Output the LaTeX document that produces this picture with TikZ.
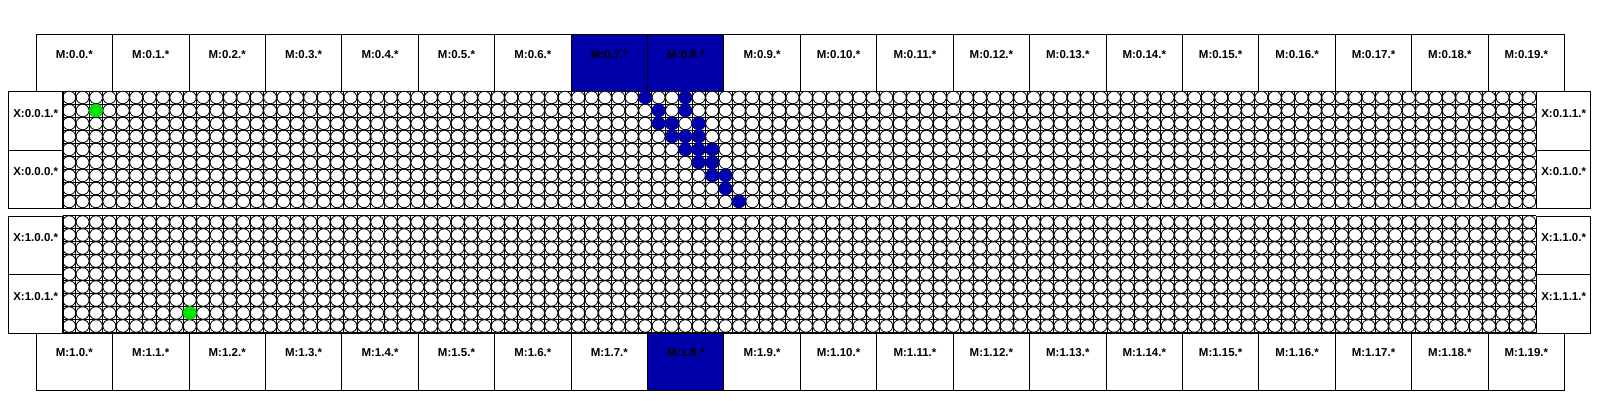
\documentclass[tikz,border=0pt]{standalone}
\usepackage{fontspec}
\setmainfont{Liberation Sans}
\definecolor{hiblue}{RGB}{0,0,170}
\definecolor{higreen}{RGB}{0,230,0}
\tikzset{
  box/.style={draw=black, line width=0.9pt, inner sep=0pt, font=\fontsize{11.5}{13}\selectfont\bfseries},
  mbox/.style={box, minimum width=76.42pt, minimum height=57pt, text height=24pt, text depth=33pt},
  xbox/.style={box, minimum width=54.5pt, minimum height=58.5pt, text height=26pt, text depth=32.5pt},
  hl0-7/.style={fill=hiblue},
  hl0-8/.style={fill=hiblue},
  hl1-8/.style={fill=hiblue},
  gridl/.style={draw=black, line width=0.9pt},
  cellc/.style={draw=black, fill=white, line width=0.8pt},
  hotb/.style={fill=hiblue, draw=hiblue},
  hotg/.style={fill=higreen, draw=higreen},
}
\newcommand{\cw}{13.395}
\newcommand{\gx}{62.5}
\begin{document}
\begin{tikzpicture}[x=1pt, y=-1pt]
\useasboundingbox (0,0) rectangle (1600,400);
% memory boxes
\foreach \i in {0,...,19} {
  \node[mbox, anchor=north west, hl0-\i/.try] (m0-\i) at (35.7+\i*76.42, 34) {M:0.\i.*};
  \node[mbox, anchor=north west, hl1-\i/.try] (m1-\i) at (35.7+\i*76.42, 332.5) {M:1.\i.*};
}
% panels: grid lines and circles
\foreach \top in {91, 215.5} {
  \foreach \c in {0,...,110} {
    \draw[gridl] (\gx+\c*\cw, \top) -- (\gx+\c*\cw, \top+117);
  }
  \foreach \r in {0,...,9} {
    \draw[gridl] (\gx, \top+\r*13) -- (\gx+110*\cw, \top+\r*13);
  }
  \foreach \r in {0,...,8} {
    \foreach \c in {0,...,109} {
      \filldraw[cellc] (\gx+\c*\cw+6.6975, \top+\r*13+6.5) ellipse [x radius=6.45, y radius=6.25];
    }
  }
}
% highlighted cells
\foreach \r/\c in {0/43,0/46,1/44,1/46,2/44,2/45,2/47,3/45,3/46,3/47,4/46,4/47,4/48,5/47,5/48,6/48,6/49,7/49,8/50} {
  \filldraw[hotb] (\gx+\c*\cw+6.6975, 91+\r*13+6.5) ellipse [x radius=6.6, y radius=6.4];
}
\filldraw[hotg] (\gx+2*\cw+6.6975, 91+1*13+6.5) ellipse [x radius=6.6, y radius=6.4];
\filldraw[hotg] (\gx+9*\cw+6.6975, 215.5+7*13+6.5) ellipse [x radius=6.6, y radius=6.4];
% cross-link boxes
\node[xbox, anchor=north west] (x001) at (8, 91) {X:0.0.1.*};
\node[xbox, anchor=north west] (x000) at (8, 149.5) {X:0.0.0.*};
\node[xbox, anchor=north west] (x011) at (\gx+110*\cw, 91) {X:0.1.1.*};
\node[xbox, anchor=north west] (x010) at (\gx+110*\cw, 149.5) {X:0.1.0.*};
\node[xbox, anchor=north west] (x100) at (8, 215.5) {X:1.0.0.*};
\node[xbox, anchor=north west] (x101) at (8, 274) {X:1.0.1.*};
\node[xbox, anchor=north west] (x110) at (\gx+110*\cw, 215.5) {X:1.1.0.*};
\node[xbox, anchor=north west] (x111) at (\gx+110*\cw, 274) {X:1.1.1.*};
\end{tikzpicture}
\end{document}
